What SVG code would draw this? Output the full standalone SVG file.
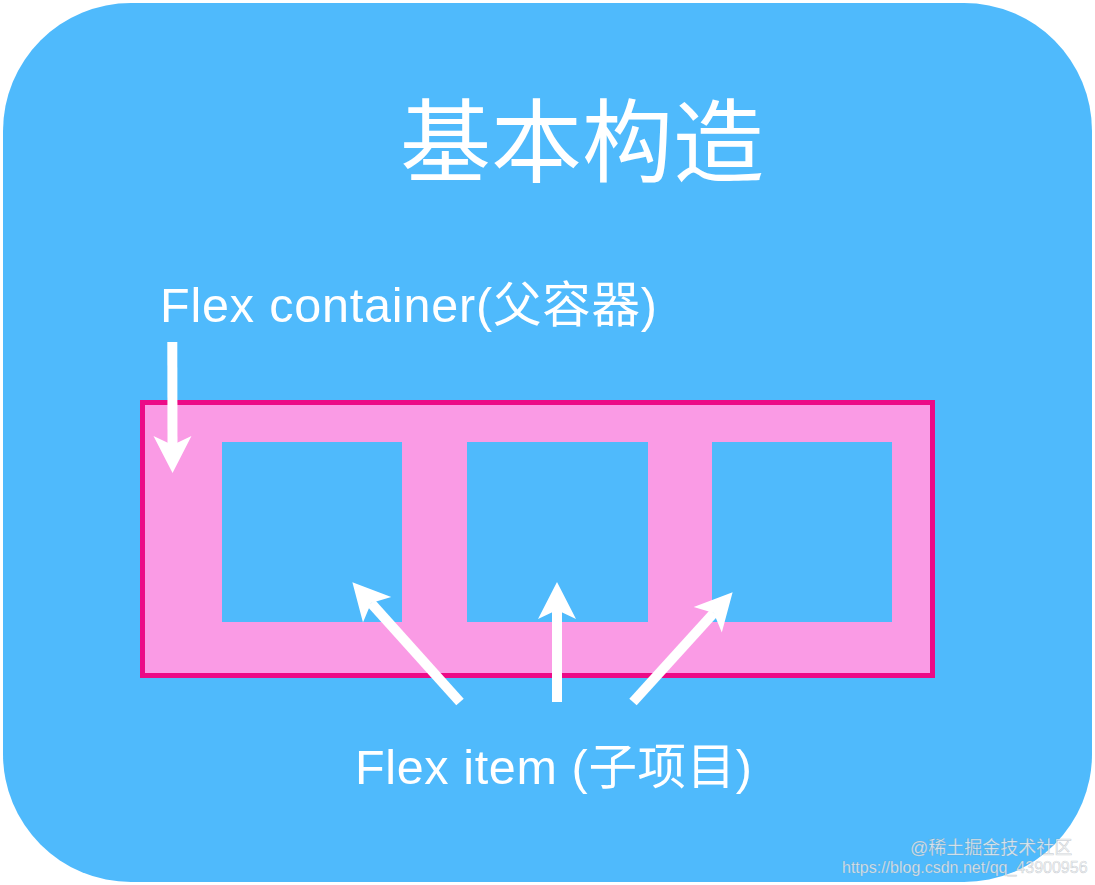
<svg xmlns="http://www.w3.org/2000/svg" width="1095" height="885" viewBox="0 0 1095 885">
  <style>
    .bg { fill: #4FBAFC; }
    .container { fill: #FA9BE5; stroke: #EC0A87; stroke-width: 5; }
    .item { fill: #4FBAFC; }
    .label { fill: #FFFFFF; font-family: "Liberation Sans", "Noto Sans CJK SC", sans-serif; }
    .title { fill: #FFFFFF; font-family: "Noto Sans CJK SC", sans-serif; font-size: 91px; }
    .arrow { stroke: #FFFFFF; stroke-width: 10; fill: none; stroke-linecap: butt; marker-end: url(#head); }
    .wm { font-family: "Liberation Sans", "Noto Sans CJK SC", sans-serif; fill: #F2F2F2; fill-opacity: 0.85; stroke: #7A8A99; stroke-opacity: 0.35; stroke-width: 0.6; }
    .wm1 { font-size: 18px; }
    .wm2 { font-size: 16px; }
  </style>
  <defs>
    <marker id="head" markerUnits="userSpaceOnUse" markerWidth="60" markerHeight="60" refX="0" refY="0" orient="auto" overflow="visible" viewBox="-20 -30 60 60">
      <path d="M28,0 L-9,-19 L0,0 L-9,19 Z" fill="#FFFFFF"/>
    </marker>
  </defs>

  <rect width="1095" height="885" fill="#FFFFFF"/>
  <g id="background">
    <rect class="bg" x="3" y="3" width="1089" height="879" rx="128" ry="128"/>
  </g>

  <g id="title">
    <text class="title" x="400" y="175">基本构造</text>
  </g>

  <g id="flex-container">
    <rect class="container" x="142.5" y="402.5" width="790" height="273"/>
  </g>
  <g id="item-1"><rect class="item" x="222" y="442" width="180" height="180"/></g>
  <g id="item-2"><rect class="item" x="467" y="442" width="181" height="180"/></g>
  <g id="item-3"><rect class="item" x="712" y="442" width="180" height="180"/></g>

  <g id="label-container">
    <text class="label" x="160" y="322" font-size="48.5" textLength="497" lengthAdjust="spacing">Flex container(父容器)</text>
  </g>
  <g id="label-item">
    <text class="label" x="355" y="784" font-size="48.5" textLength="397" lengthAdjust="spacing">Flex item (子项目)</text>
  </g>

  <g id="connectors">
    <line class="arrow" x1="172.3" y1="342" x2="172.5" y2="445"/>
    <line class="arrow" x1="460" y1="702" x2="371.1" y2="603.1"/>
    <line class="arrow" x1="557" y1="702" x2="557" y2="610"/>
    <line class="arrow" x1="633" y1="702" x2="713.8" y2="613"/>
  </g>

  <g id="watermark">
    <text class="wm wm1" x="910" y="854">@稀土掘金技术社区</text>
    <text class="wm wm2" x="842" y="873">https://blog.csdn.net/qq_43900956</text>
  </g>
</svg>
